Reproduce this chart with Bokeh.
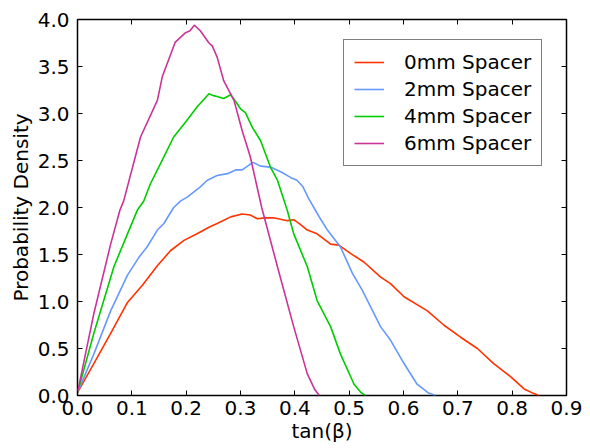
from bokeh.plotting import figure
from bokeh.models import (Range1d, LinearAxis, SingleIntervalTicker, NumeralTickFormatter,
                          CustomJSTickFormatter, Legend, LegendItem)
from bokeh.embed import file_html
from bokeh.resources import INLINE

# ---- data ----
x_0mm = [0, 0.030, 0.061, 0.092, 0.119, 0.147, 0.171, 0.196, 0.220, 0.242, 0.257, 0.282,
         0.303, 0.318, 0.331, 0.345, 0.361, 0.386, 0.398, 0.410, 0.423, 0.441, 0.466, 0.481,
         0.503, 0.527, 0.558, 0.576, 0.601, 0.644, 0.674, 0.705, 0.736, 0.766, 0.797, 0.822,
         0.840, 0.849]
y_0mm = [0.03, 0.34, 0.66, 0.99, 1.17, 1.38, 1.54, 1.65, 1.72, 1.79, 1.83, 1.90,
         1.93, 1.92, 1.88, 1.89, 1.89, 1.86, 1.87, 1.82, 1.76, 1.72, 1.61, 1.60,
         1.51, 1.42, 1.26, 1.19, 1.05, 0.90, 0.75, 0.62, 0.50, 0.34, 0.20, 0.07,
         0.02, 0.0]

x_2mm = [0, 0.030, 0.061, 0.092, 0.113, 0.128, 0.147, 0.159, 0.177, 0.190, 0.202, 0.226,
         0.239, 0.257, 0.276, 0.291, 0.303, 0.323, 0.337, 0.355, 0.374, 0.392, 0.404, 0.415,
         0.425, 0.435, 0.447, 0.460, 0.484, 0.506, 0.524, 0.558, 0.576, 0.601, 0.625, 0.645,
         0.659]
y_2mm = [0.03, 0.44, 0.90, 1.28, 1.47, 1.58, 1.76, 1.83, 2.00, 2.07, 2.11, 2.22,
         2.29, 2.34, 2.36, 2.40, 2.40, 2.48, 2.44, 2.43, 2.38, 2.32, 2.29, 2.22,
         2.10, 2.00, 1.88, 1.76, 1.58, 1.30, 1.12, 0.73, 0.59, 0.34, 0.12, 0.03,
         0.0]

x_4mm = [0, 0.030, 0.067, 0.092, 0.110, 0.122, 0.134, 0.153, 0.177, 0.199, 0.220, 0.242,
         0.250, 0.257, 0.269, 0.282, 0.292, 0.300, 0.309, 0.322, 0.337, 0.355, 0.368, 0.386,
         0.398, 0.423, 0.441, 0.466, 0.484, 0.509, 0.522, 0.530]
y_4mm = [0.03, 0.66, 1.37, 1.72, 1.97, 2.07, 2.25, 2.47, 2.75, 2.91, 3.07, 3.21,
         3.19, 3.18, 3.16, 3.20, 3.12, 3.05, 3.01, 2.85, 2.71, 2.43, 2.29, 1.97,
         1.72, 1.37, 1.01, 0.73, 0.44, 0.12, 0.03, 0.0]

x_6mm = [0, 0.030, 0.061, 0.078, 0.085, 0.116, 0.147, 0.156, 0.180, 0.199, 0.207, 0.215,
         0.226, 0.242, 0.248, 0.257, 0.269, 0.288, 0.303, 0.318, 0.339, 0.368, 0.398, 0.423,
         0.437, 0.445]
y_6mm = [0.03, 0.87, 1.61, 1.97, 2.07, 2.75, 3.14, 3.39, 3.76, 3.86, 3.88, 3.94,
         3.88, 3.75, 3.72, 3.60, 3.35, 3.14, 2.82, 2.54, 2.00, 1.37, 0.73, 0.23,
         0.06, 0.0]

labels = ["0mm Spacer", "2mm Spacer", "4mm Spacer", "6mm Spacer"]
colors = ["#FF3300", "#6699FF", "#00CC00", "#CC3399"]
series = [(x_0mm, y_0mm), (x_2mm, y_2mm), (x_4mm, y_4mm), (x_6mm, y_6mm)]

FONT = "DejaVu Sans"
FS = "20px"

p = figure(width=590, height=448, output_backend="svg", toolbar_location=None,
           x_range=Range1d(0, 0.9), y_range=Range1d(0, 4.0),
           min_border_left=77, min_border_right=24, min_border_top=19, min_border_bottom=53,
           x_axis_label="tan(β)", y_axis_label="Probability Density")
p.background_fill_color = "white"
p.border_fill_color = "white"
p.grid.visible = False
p.outline_line_color = "black"
p.outline_line_width = 1.5

items = []
for (xs, ys), lab, col in zip(series, labels, colors):
    r = p.line(xs, ys, line_color=col, line_width=1.6)
    items.append(LegendItem(label=lab, renderers=[r]))

def style_axis(ax, show_labels):
    ax.axis_line_color = None
    ax.major_tick_in = 5
    ax.major_tick_out = 0
    ax.minor_tick_in = 0
    ax.minor_tick_out = 0
    ax.major_tick_line_color = "black"
    ax.major_tick_line_width = 1
    ax.major_label_text_font = FONT
    ax.major_label_text_font_size = FS
    ax.major_label_text_color = "black"
    ax.axis_label_text_font = FONT
    ax.axis_label_text_font_size = FS
    ax.axis_label_text_font_style = "normal"
    ax.axis_label_text_color = "black"
    if not show_labels:
        ax.formatter = CustomJSTickFormatter(code="return ''")
        ax.major_label_standoff = 0

p.xaxis.ticker = SingleIntervalTicker(interval=0.1)
p.yaxis.ticker = SingleIntervalTicker(interval=0.5)
p.xaxis.formatter = NumeralTickFormatter(format="0.0")
p.yaxis.formatter = NumeralTickFormatter(format="0.0")
for ax in p.xaxis:
    style_axis(ax, True)
    ax.major_label_standoff = 5
    ax.axis_label_standoff = 1
for ax in p.yaxis:
    style_axis(ax, True)
    ax.major_label_standoff = 8
    ax.axis_label_standoff = 2

top = LinearAxis(ticker=SingleIntervalTicker(interval=0.1))
right = LinearAxis(ticker=SingleIntervalTicker(interval=0.5))
style_axis(top, False)
style_axis(right, False)
p.add_layout(top, "above")
p.add_layout(right, "right")

legend = Legend(items=items, location=(266, 229))
legend.label_text_font = FONT
legend.label_text_font_size = FS
legend.label_text_color = "black"
legend.border_line_color = "black"
legend.border_line_width = 1.2
legend.background_fill_alpha = 1
legend.padding = 10
legend.spacing = 3
legend.glyph_width = 30
legend.glyph_height = 20
legend.label_standoff = 20
legend.margin = 0
p.add_layout(legend, "center")

open("out.html", "w").write(file_html(p, INLINE))
